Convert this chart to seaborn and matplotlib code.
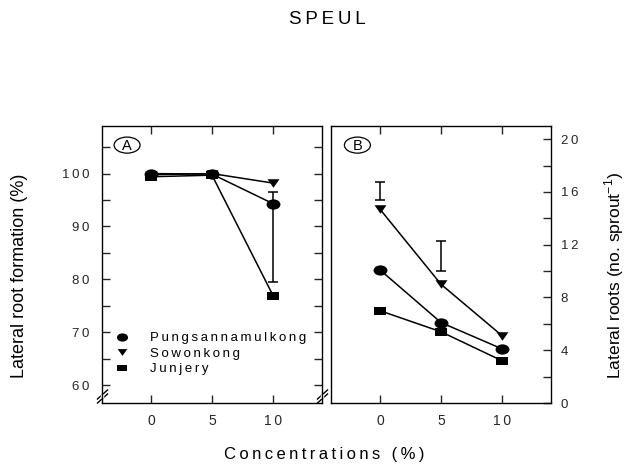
import numpy as np
import pandas as pd
import matplotlib
matplotlib.use("Agg")
import matplotlib.pyplot as plt
import matplotlib.transforms as mtransforms
from matplotlib.path import Path
from matplotlib.patches import Ellipse
from matplotlib.lines import Line2D
import seaborn as sns

# ---- data -------------------------------------------------------------
concentrations = [0, 5, 10]
varieties = ["Pungsannamulkong", "Sowonkong", "Junjery"]

# panel A: lateral root formation (%)
formation_pung = [100.0, 99.9, 94.3]
formation_sowon = [99.8, 100.0, 98.2]
formation_jun = [99.4, 99.7, 76.9]
formation_lsd_x = [10]
formation_lsd_mid = [88.0]
formation_lsd_half = [8.5]

# panel B: lateral roots (no. sprout^-1)
roots_pung = [10.1, 6.1, 4.1]
roots_sowon = [14.7, 9.0, 5.1]
roots_jun = [7.0, 5.4, 3.2]
roots_lsd_x = [0, 5]
roots_lsd_mid = [16.07, 11.16]
roots_lsd_half = [0.67, 1.14]

x_ticks = [0, 5, 10]
a_major = [60, 70, 80, 90, 100]
b_major = [0, 4, 8, 12, 16, 20]

# ---- style ------------------------------------------------------------
sns.set_theme(style="ticks")
plt.rcParams["font.family"] = ["Liberation Sans", "DejaVu Sans"]
plt.rcParams["mathtext.fontset"] = "custom"
plt.rcParams["mathtext.rm"] = "Liberation Sans"
plt.rcParams["axes.linewidth"] = 1.0
plt.rcParams["axes.edgecolor"] = "black"
plt.rcParams["text.color"] = "black"


def spaced(s):
    return "\u2009".join(s)


circ = Path.unit_circle()
m_circle = Path(circ.vertices * [1.35, 1.0], circ.codes)
m_square = Path([(-1.45, -1), (1.45, -1), (1.45, 1), (-1.45, 1), (-1.45, -1)],
                [Path.MOVETO, Path.LINETO, Path.LINETO, Path.LINETO, Path.CLOSEPOLY])
m_tri = Path([(0, -1), (1.4, 1), (-1.4, 1), (0, -1)],
             [Path.MOVETO, Path.LINETO, Path.LINETO, Path.CLOSEPOLY])
markers = {"Pungsannamulkong": (m_circle, 10.0),
           "Sowonkong": (m_tri, 8.6),
           "Junjery": (m_square, 8.4)}

df_a = pd.DataFrame({
    "conc": concentrations * 3,
    "value": formation_pung + formation_sowon + formation_jun,
    "variety": np.repeat(varieties, 3),
})
df_b = pd.DataFrame({
    "conc": concentrations * 3,
    "value": roots_pung + roots_sowon + roots_jun,
    "variety": np.repeat(varieties, 3),
})

W, H = 629, 466
fig = plt.figure(figsize=(W / 100, H / 100), dpi=100)
ax_a = fig.add_axes([102 / W, 1 - 403 / H, 220 / W, 277 / H])
ax_b = fig.add_axes([331 / W, 1 - 403 / H, 220 / W, 277 / H])

draw_order = ["Sowonkong", "Pungsannamulkong", "Junjery"]
for ax, df in ((ax_a, df_a), (ax_b, df_b)):
    for name in draw_order:
        mk, ms = markers[name]
        sns.lineplot(data=df[df["variety"] == name], x="conc", y="value",
                     ax=ax, color="black", linewidth=1.1, marker=mk,
                     markersize=ms, markeredgewidth=0, legend=False)

ax_a.errorbar(formation_lsd_x, formation_lsd_mid, yerr=formation_lsd_half,
              fmt="none", ecolor="black", elinewidth=1.1, capsize=3.5, capthick=1.1)
ax_b.errorbar(roots_lsd_x, roots_lsd_mid, yerr=roots_lsd_half,
              fmt="none", ecolor="black", elinewidth=1.1, capsize=3.5, capthick=1.1)

for ax in (ax_a, ax_b):
    ax.set_xlim(-4, 14)
    ax.set_xticks(x_ticks)
    ax.set_xticklabels([spaced(str(t)) for t in x_ticks], fontsize=10)
    ax.set_xlabel("")
    ax.set_ylabel("")
    ax.tick_params(axis="x", direction="in", length=5.5, width=1.0,
                   top=True, bottom=True, pad=8)

ax_a.set_ylim(56.6, 109)
ax_a.set_yticks(a_major)
ax_a.set_yticks(np.arange(60, 109, 5), minor=True)
ax_a.set_yticklabels([spaced(str(t)) for t in a_major], fontsize=9.5)
ax_a.tick_params(axis="y", which="both", direction="in", length=5.5, width=1.0,
                 left=True, right=True, pad=9)

ax_b.set_ylim(0, 21)
ax_b.yaxis.tick_right()
ax_b.set_yticks(b_major)
ax_b.set_yticks(np.arange(0, 21, 2), minor=True)
ax_b.set_yticklabels([spaced(str(t)) for t in b_major], fontsize=9.5)
ax_b.tick_params(axis="y", which="both", direction="in", length=5.5, width=1.0,
                 left=False, right=True, labelleft=False, labelright=True, pad=7)

# panel letters in ellipses
for ax, letter, cx in ((ax_a, "A", 0.114), (ax_b, "B", 0.12)):
    ax.add_patch(Ellipse((cx, 0.931), 0.118, 0.058, transform=ax.transAxes,
                         facecolor="none", edgecolor="black", linewidth=0.9,
                         clip_on=False))
    ax.text(cx, 0.929, letter, transform=ax.transAxes, ha="center",
            va="center", fontsize=10.5)

# legend
handles = [Line2D([], [], ls="none", color="black", marker=markers[n][0],
                  markersize=markers[n][1] * 0.8, markeredgewidth=0)
           for n in varieties]
ax_a.legend(handles, [spaced(n) for n in varieties], loc="lower left",
            bbox_to_anchor=(0.06, 0.1), frameon=False, fontsize=9.5,
            handlelength=1.0, handletextpad=1.6, labelspacing=0.25,
            borderpad=0, borderaxespad=0)


# axis break marks on panel A
def axis_break(ax, xfrac, yfrac):
    px = 0.72
    for dy in (-2.0, 2.0):
        off = mtransforms.ScaledTranslation(0, dy * px / 72, fig.dpi_scale_trans)
        tr = ax.transAxes + off
        ax.plot([xfrac], [yfrac], transform=tr, marker=[(-1, -0.9), (1, 0.9)],
                markersize=8, color="black", mew=1.0, clip_on=False)
    ax.plot([xfrac], [yfrac], transform=ax.transAxes, marker="|",
            markersize=3.5, color="white", mew=2.5, clip_on=False, zorder=2.5)


axis_break(ax_a, 0.0, 0.0235)
axis_break(ax_a, 1.0, 0.0235)

fig.text(327 / W, 1 - 19 / H, spaced("SPEUL"), ha="center", va="center",
         fontsize=13.5)
fig.text(324.5 / W, 1 - 454 / H, spaced("Concentrations (%)"), ha="center",
         va="center", fontsize=12)
fig.text(20 / W, 1 - 276 / H, "Lateral root formation (%)", rotation=90,
         ha="center", va="center", fontsize=13)
fig.text(614 / W, 1 - 275 / H, "Lateral roots (no. sprout$^{-1}$)",
         rotation=90, ha="center", va="center", fontsize=12.6)

fig.savefig("out.png", dpi=100)
